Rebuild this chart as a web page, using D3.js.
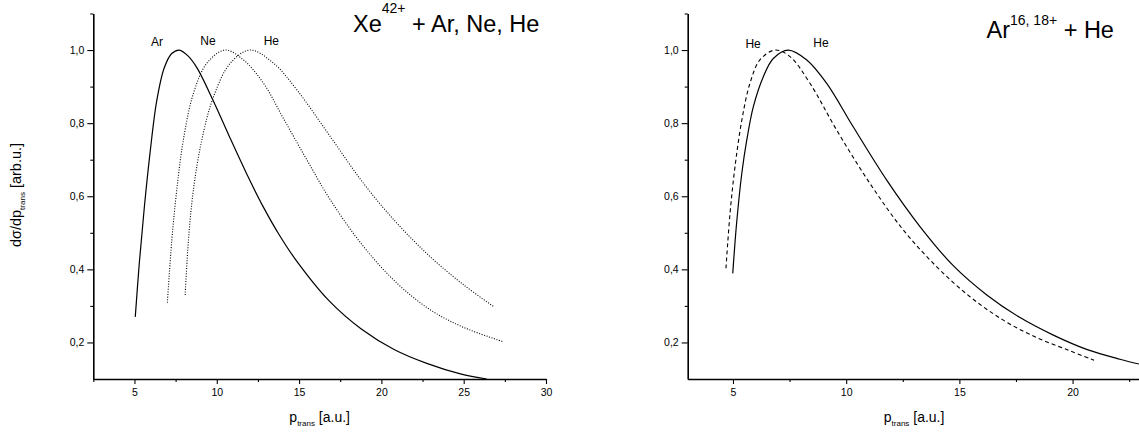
<!DOCTYPE html>
<html><head><meta charset="utf-8">
<script src="https://cdn.jsdelivr.net/npm/d3@7"></script>
<style>
html,body{margin:0;padding:0;background:#fff;}
svg{display:block;font-family:"Liberation Sans",Arial,sans-serif;}
</style></head>
<body><svg id="c" width="1139" height="433"></svg>
<script>
// ---- data ----
const xTicksLeft = [5, 10, 15, 20, 25, 30];
const xTicksRight = [5, 10, 15, 20];
const yTicks = [0.2, 0.4, 0.6, 0.8, 1.0];

const xeAr = [[5.05,0.27],[5.3,0.42],[5.6,0.57],[5.95,0.72],[6.35,0.86],[6.8,0.95],[7.25,0.99],[7.73,1.0],[8.25,0.984],[8.79,0.952],[9.8,0.86],[10.8,0.76],[11.8,0.663],[12.8,0.573],[13.8,0.494],[14.8,0.426],[16.8,0.315],[18.8,0.236],[20.8,0.18],[22.8,0.142],[24.8,0.114],[26.4,0.1]];
const xeNe = [[7.0,0.309],[7.27,0.48],[7.57,0.617],[7.97,0.754],[8.58,0.881],[9.4,0.964],[10.51,1.0],[11.62,0.973],[12.84,0.909],[14.06,0.812],[15.48,0.699],[16.9,0.59],[18.92,0.462],[20.95,0.362],[22.98,0.289],[25.01,0.241],[27.4,0.202]];
const xeHe = [[8.08,0.33],[8.28,0.48],[8.58,0.617],[9.09,0.754],[9.8,0.872],[10.82,0.964],[12.03,1.0],[13.45,0.964],[14.87,0.891],[16.9,0.763],[18.92,0.635],[20.95,0.526],[22.98,0.434],[25.01,0.357],[26.83,0.298]];

const arHeSolid = [[4.99,0.389],[5.16,0.526],[5.39,0.663],[5.61,0.754],[5.9,0.845],[6.34,0.927],[6.78,0.977],[7.44,1.0],[8.26,0.973],[9.14,0.909],[10.31,0.79],[11.79,0.644],[13.26,0.517],[14.73,0.41],[16.21,0.33],[17.68,0.268],[19.15,0.22],[20.62,0.181],[22.09,0.154],[22.93,0.141]];
const arHeDashed = [[4.69,0.403],[4.87,0.553],[5.09,0.681],[5.39,0.808],[5.75,0.909],[6.19,0.973],[6.86,1.0],[7.52,0.982],[8.4,0.909],[9.58,0.781],[11.05,0.635],[12.52,0.508],[14.0,0.407],[15.47,0.325],[16.94,0.261],[18.42,0.213],[19.89,0.177],[20.95,0.151]];

const curveLabelsLeft = [{t:"Ar",x:6.0,y:1.01},{t:"Ne",x:9.0,y:1.015},{t:"He",x:12.85,y:1.015}];
const curveLabelsRight = [{t:"He",x:5.55,y:1.005},{t:"He",x:8.55,y:1.007}];

// ---- drawing ----
const svg = d3.select("#c");
const fmt = d => d3.format(".1f")(d).replace(".", ",");

function panel(opt){
  const g = svg.append("g");
  const x = d3.scaleLinear().domain(opt.xdom).range(opt.xr);
  const y = d3.scaleLinear().domain([0.1, 1.1]).range([379, 13.5]);

  // minor ticks
  const yMinor = [0.3,0.5,0.7,0.9,1.1];
  g.append("g").attr("transform",`translate(${opt.xr[0]},0)`)
    .call(d3.axisLeft(y).tickValues(yMinor).tickSize(3).tickFormat(""))
    .call(s=>s.select(".domain").remove());
  const xMinor = d3.range(Math.ceil(opt.xdom[0]/2.5)*2.5, opt.xdom[1]+0.01, 2.5).filter(v=>Math.abs(v/5-Math.round(v/5))>0.01);
  g.append("g").attr("transform","translate(0,379)")
    .call(d3.axisBottom(x).tickValues(xMinor).tickSize(3).tickFormat(""))
    .call(s=>s.select(".domain").remove());

  // major axes
  const ya = g.append("g").attr("transform",`translate(${opt.xr[0]},0)`)
    .call(d3.axisLeft(y).tickValues(yTicks).tickSize(6).tickPadding(3).tickFormat(fmt).tickSizeOuter(0));
  ya.selectAll("text").attr("font-size",10.5).attr("font-family","Liberation Sans, Arial, sans-serif").attr("fill","#000");
  const xa = g.append("g").attr("transform","translate(0,379)")
    .call(d3.axisBottom(x).tickValues(opt.xticks).tickSize(5).tickPadding(5).tickFormat(d3.format("d")).tickSizeOuter(0));
  xa.selectAll("text").attr("font-size",10.5).attr("font-family","Liberation Sans, Arial, sans-serif").attr("fill","#000");
  g.selectAll(".domain").attr("stroke","#000").attr("stroke-width",1.6);
  g.selectAll(".tick line").attr("stroke","#000").attr("stroke-width",1.1);

  const line = d3.line().x(d=>x(d[0])).y(d=>y(d[1])).curve(d3.curveCatmullRom.alpha(0.5));
  opt.series.forEach(s=>{
    g.append("path").datum(s.data).attr("d",line)
      .attr("fill","none").attr("stroke","#000").attr("stroke-width",s.w||1.2)
      .attr("stroke-dasharray",s.dash||null);
  });
  opt.labels.forEach(l=>{
    g.append("text").attr("x",x(l.x)).attr("y",y(l.y)).attr("font-size",12).text(l.t);
  });
  // x label
  const xl = g.append("text").attr("x",(opt.xr[0]+opt.xr[1])/2).attr("y",422)
    .attr("text-anchor","middle").attr("font-size",14);
  xl.append("tspan").text("p");
  xl.append("tspan").attr("font-size",8).attr("dy",4).text("trans");
  xl.append("tspan").attr("dy",-4).text(" [a.u.]");
  // title
  const tt = g.append("text").attr("x",opt.title.x).attr("y",opt.title.y).attr("font-size",23.5);
  tt.append("tspan").text(opt.title.a);
  tt.append("tspan").attr("font-size",14).attr("dy",opt.title.sh).text(opt.title.sup);
  tt.append("tspan").attr("dy",-opt.title.sh).text(opt.title.b);
  return {x,y};
}

panel({xdom:[2.5,30], xr:[93.3,546], xticks:xTicksLeft,
  series:[{data:xeAr},{data:xeNe,dash:"1 1.6",w:1.1},{data:xeHe,dash:"1 1.6",w:1.1}],
  labels:curveLabelsLeft,
  title:{x:353,y:32,a:"Xe",sup:"42+",b:" + Ar, Ne, He",sh:-19}});
panel({xdom:[3,23], xr:[687.7,1140.5], xticks:xTicksRight,
  series:[{data:arHeSolid},{data:arHeDashed,dash:"4 3",w:1.1}],
  labels:curveLabelsRight,
  title:{x:986.5,y:38,a:"Ar",sup:"16, 18+",b:" + He",sh:-13}});

// y axis label (left panel only)
const yl = svg.append("text").attr("transform","translate(21,195) rotate(-90)")
  .attr("text-anchor","middle").attr("font-size",14.5);
yl.append("tspan").text("dσ/dp");
yl.append("tspan").attr("font-size",8).attr("dy",4).text("trans");
yl.append("tspan").attr("dy",-4).text(" [arb.u.]");
</script></body></html>
